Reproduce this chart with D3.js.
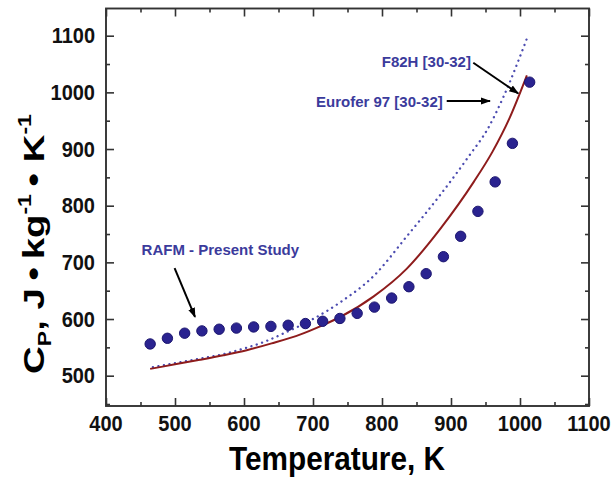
<!DOCTYPE html>
<html><head><meta charset="utf-8">
<script src="https://cdn.jsdelivr.net/npm/d3@7/dist/d3.min.js"></script>
<style>
body{margin:0;background:#fff;}
text{font-family:"Liberation Sans",Arial,sans-serif;font-weight:bold;}
</style></head>
<body><svg id="c" width="614" height="479"></svg>
<script>
// Data
const rafmT = [464,489,514,539,564,589,614,639,664,689,714,739,764,789,814,839,864,889,914,939,964,989,1014];
const rafmCp = [556,566,575,579,582,584,586,587,589,592,596,601,610,621,637,657,680,710,746,790,842,910,1018];
const f82hT = [464,500,536,570,604,640,682,712,740,788,836,885,933,960,985,1010];
const f82hCp = [512,520,528,536,545,557,573,588,604,640,689,760,842,895,955,1030];
const euroT = [468,500,536,570,600,630,658,700,740,788,836,885,928,952,976,1010];
const euroCp = [515,522,530,538,548,560,575,600,630,676,746,820,891,933,992,1095];
const xTicks = [400,500,600,700,800,900,1000,1100];
const yTicks = [500,600,700,800,900,1000,1100];

const svg = d3.select("#c");
const L=106,R=589,T=8.5,B=406;
const x = d3.scaleLinear().domain([400,1100]).range([L,R]);
const y = d3.scaleLinear().domain([446.5,1148]).range([B,T]);

const axisCol="#333";
svg.append("rect").attr("x",L).attr("y",T).attr("width",R-L).attr("height",B-T)
  .attr("fill","none").attr("stroke",axisCol).attr("stroke-width",1.9);

const xMinor = d3.range(450,1100,100);
const yMinor = d3.range(450,1150,100);
function ticks(g, axis){ g.call(axis); g.select(".domain").remove(); g.selectAll(".tick line").attr("stroke",axisCol).attr("stroke-width",1.6); }
svg.append("g").attr("transform",`translate(0,${B})`).call(g=>ticks(g,d3.axisBottom(x).tickValues(xTicks).tickSize(-8).tickFormat("")));
svg.append("g").attr("transform",`translate(0,${B})`).call(g=>ticks(g,d3.axisBottom(x).tickValues(xMinor).tickSize(-4).tickFormat("")));
svg.append("g").attr("transform",`translate(0,${T})`).call(g=>ticks(g,d3.axisTop(x).tickValues(xTicks).tickSize(-8).tickFormat("")));
svg.append("g").attr("transform",`translate(0,${T})`).call(g=>ticks(g,d3.axisTop(x).tickValues(xMinor).tickSize(-4).tickFormat("")));
svg.append("g").attr("transform",`translate(${L},0)`).call(g=>ticks(g,d3.axisLeft(y).tickValues(yTicks).tickSize(-8).tickFormat("")));
svg.append("g").attr("transform",`translate(${L},0)`).call(g=>ticks(g,d3.axisLeft(y).tickValues(yMinor).tickSize(-4).tickFormat("")));
svg.append("g").attr("transform",`translate(${R},0)`).call(g=>ticks(g,d3.axisRight(y).tickValues(yTicks).tickSize(-8).tickFormat("")));
svg.append("g").attr("transform",`translate(${R},0)`).call(g=>ticks(g,d3.axisRight(y).tickValues(yMinor).tickSize(-4).tickFormat("")));

// tick labels
svg.append("g").selectAll("text").data(xTicks).join("text")
  .attr("transform",d=>`translate(${x(d)},431) scale(1,1.1)`).attr("text-anchor","middle")
  .attr("font-size",20).attr("fill","#111").text(d=>d);
svg.append("g").selectAll("text").data(yTicks).join("text")
  .attr("transform",d=>`translate(95,${y(d)+7.5}) scale(1,1.1)`).attr("text-anchor","end")
  .attr("font-size",20).attr("fill","#111").text(d=>d);

// axis titles
svg.append("text").attr("transform","translate(337,470) scale(0.93,1.02)")
  .attr("text-anchor","middle").attr("font-size",32).attr("fill","#000").text("Temperature, K");
const yl = svg.append("text").attr("transform","translate(44,244) rotate(-90) scale(1.28,1)")
  .attr("text-anchor","middle").attr("font-size",30).attr("fill","#000");
yl.append("tspan").text("C");
yl.append("tspan").attr("font-size",18).attr("dy",7).text("P");
yl.append("tspan").attr("dy",-7).text(",  J\u2009•\u2009kg");
yl.append("tspan").attr("font-size",18).attr("dy",-13).text("-1");
yl.append("tspan").attr("dy",13).text("\u2009• K");
yl.append("tspan").attr("font-size",18).attr("dy",-13).text("-1");

// lines
const line = d3.line().curve(d3.curveMonotoneX);
svg.append("path").attr("d",line(euroT.map((t,i)=>[x(t),y(euroCp[i])])))
  .attr("fill","none").attr("stroke","#4b4bb0").attr("stroke-width",2.3)
  .attr("stroke-dasharray","0.1,5.5").attr("stroke-linecap","round");
svg.append("path").attr("d",line(f82hT.map((t,i)=>[x(t),y(f82hCp[i])])))
  .attr("fill","none").attr("stroke","#8e1c1c").attr("stroke-width",2);

// points
svg.append("g").selectAll("circle").data(rafmT).join("circle")
  .attr("cx",d=>x(d)).attr("cy",(d,i)=>y(rafmCp[i])).attr("r",5.2)
  .attr("fill","#2a2390").attr("stroke","#1c1670").attr("stroke-width",1);

// annotations
const annCol="#3b3b9c";
svg.append("defs").append("marker").attr("id","ah").attr("viewBox","0 0 10 10")
  .attr("refX",9).attr("refY",5).attr("markerWidth",5).attr("markerHeight",5)
  .attr("markerUnits","strokeWidth").attr("orient","auto")
  .append("path").attr("d","M0,1.5L10,5L0,8.5Z").attr("fill","#000");
function arrow(t1,c1,t2,c2){
  svg.append("line").attr("x1",x(t1)).attr("y1",y(c1)).attr("x2",x(t2)).attr("y2",y(c2))
    .attr("stroke","#000").attr("stroke-width",2).attr("marker-end","url(#ah)");
}
svg.append("text").attr("x",x(451.6)).attr("y",y(713)).attr("font-size",15).attr("fill",annCol).text("RAFM - Present Study");
arrow(499.4,690,529,603.6);
svg.append("text").attr("x",x(799.6)).attr("y",y(1045.6)).attr("font-size",15).attr("fill",annCol).text("F82H [30-32]");
arrow(932.3,1052.3,997.5,998);
svg.append("text").attr("x",x(888)).attr("y",y(974)).attr("text-anchor","end").attr("font-size",15).attr("fill",annCol).text("Eurofer 97 [30-32]");
arrow(893.8,984.8,956.5,984.8);
</script></body></html>
